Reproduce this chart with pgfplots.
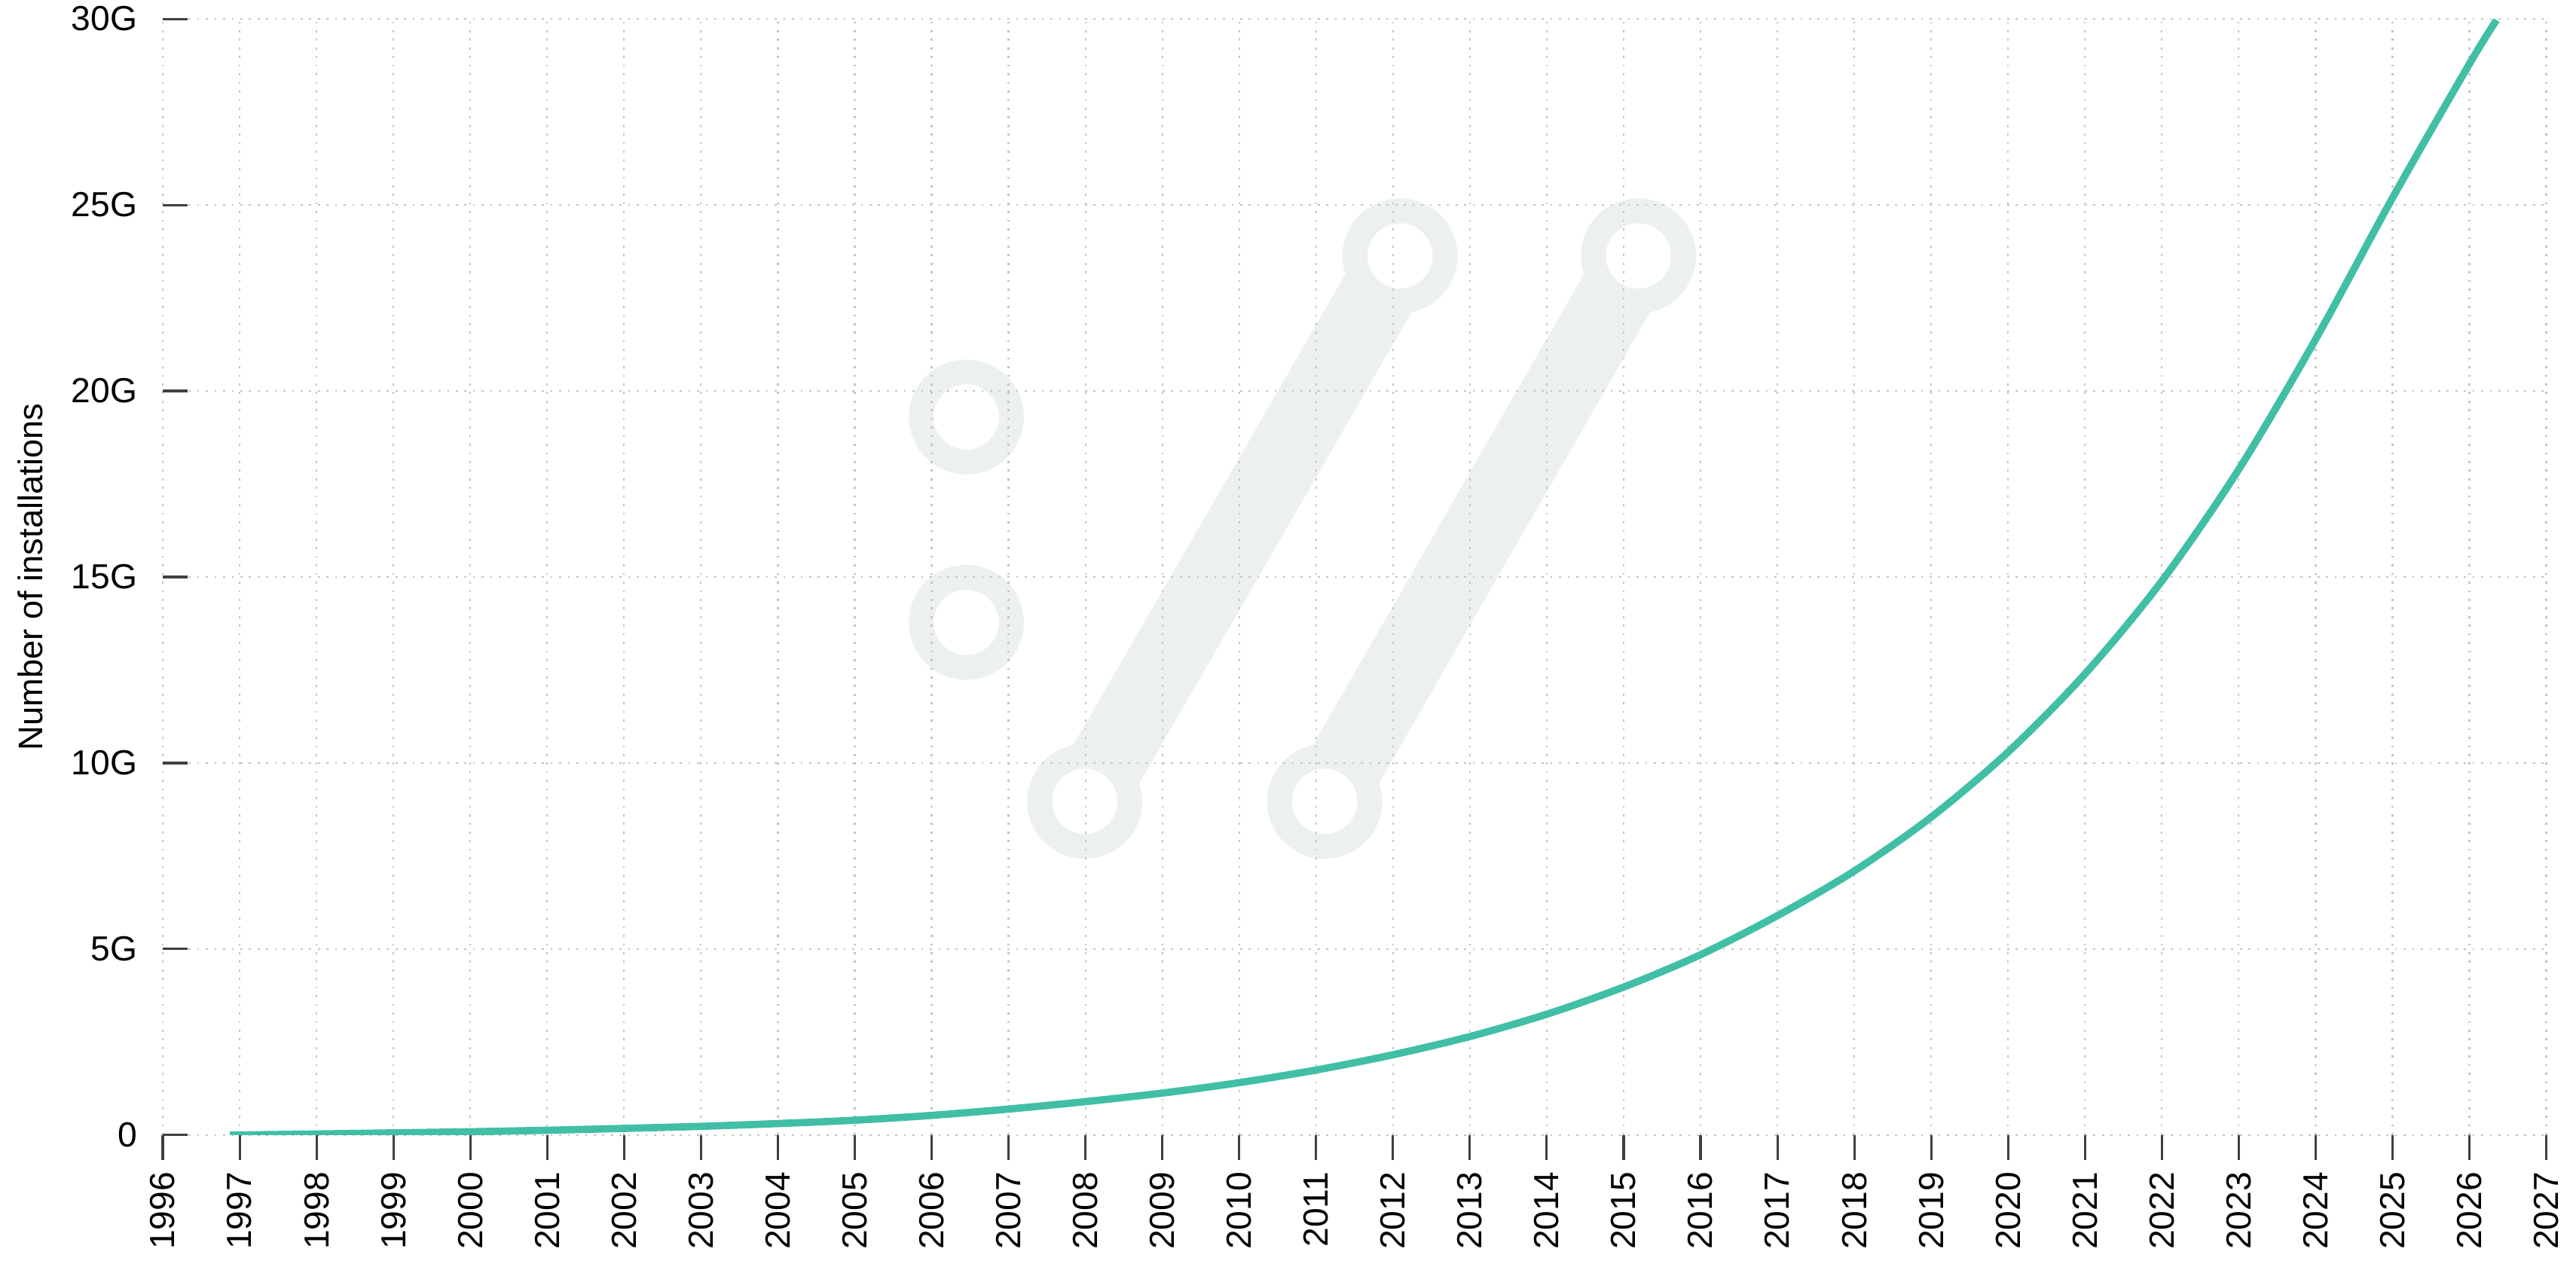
\documentclass[border=0pt]{standalone}
\usepackage{pgfplots}
\pgfplotsset{compat=1.18}
\usepackage{fontspec}
\setmainfont{Liberation Sans}
\definecolor{curve}{HTML}{41BFA6}
\definecolor{wm}{HTML}{ECF0F1}
\definecolor{gridc}{HTML}{C4C4C4}
\begin{document}
\begin{tikzpicture}
\begin{axis}[
  set layers,
  scale only axis,
  width=719.1pt, height=336.8pt,
  xmin=1996, xmax=2027, ymin=0, ymax=30,
  xtick={1996,...,2027},
  ytick={0,5,10,15,20,25,30},
  yticklabels={0,5G,10G,15G,20G,25G,30G},
  /pgf/number format/assume math mode=true,
  /pgf/number format/1000 sep={},
  xticklabel style={rotate=90, anchor=east, inner sep=0pt, xshift=-3.5pt},
  yticklabel style={anchor=east, inner sep=0pt},
  tick label style={font=\fontsize{10.5}{12}\selectfont, text=black},
  label style={font=\fontsize{10.3}{12}\selectfont},
  ylabel={Number of installations},
  ylabel style={at={(axis description cs:-0.0556,0.5)}, anchor=center},
  grid=major,
  grid style={gridc, line width=0.5pt, dash pattern=on 0.6pt off 2pt},
  axis line style={draw=none},
  tick pos=left,
  tick align=outside,
  major tick length=7.5pt,
  tick style={line width=0.7pt, black!75},
  y tick style={xshift=7.5pt},
]
\begin{pgfonlayer}{axis background}
  \draw[wm, line width=7.5pt] (axis cs:2006.45,19.3) circle [radius=13.6pt];
  \draw[wm, line width=7.5pt] (axis cs:2006.45,13.78) circle [radius=13.6pt];
  \draw[wm, line width=7.5pt] (axis cs:2007.99,8.97) circle [radius=13.6pt];
  \draw[wm, line width=7.5pt] (axis cs:2012.09,23.63) circle [radius=13.6pt];
  \draw[wm, line width=7.5pt] (axis cs:2011.11,8.97) circle [radius=13.6pt];
  \draw[wm, line width=7.5pt] (axis cs:2015.19,23.63) circle [radius=13.6pt];
  \draw[wm, line width=23pt, shorten <=12pt, shorten >=12pt] (axis cs:2007.99,8.97) -- (axis cs:2012.09,23.63);
  \draw[wm, line width=23pt, shorten <=12pt, shorten >=12pt] (axis cs:2011.11,8.97) -- (axis cs:2015.19,23.63);
\end{pgfonlayer}
\addplot[curve, line width=2.2pt, smooth] table {
x y
1996.87 0.0
1998 0.03
1999 0.06
2000 0.09
2001 0.13
2002 0.18
2003 0.235
2004 0.31
2005 0.40
2006 0.53
2007 0.70
2008 0.90
2009 1.13
2010 1.41
2011 1.75
2012 2.16
2013 2.65
2014 3.25
2015 3.98
2016 4.85
2017 5.90
2018 7.10
2019 8.55
2020 10.30
2021 12.40
2022 14.90
2023 17.90
2024 21.40
2025 25.20
2026 28.80
2026.35 29.97
};
\coordinate (O) at (rel axis cs:0,0);
\coordinate (T) at (rel axis cs:1,1);
\end{axis}
\pgfresetboundingbox
\path[use as bounding box] ([xshift=-49.1pt,yshift=-40.7pt]O) rectangle ([xshift=8.9pt,yshift=5.7pt]T);
\end{tikzpicture}
\end{document}
